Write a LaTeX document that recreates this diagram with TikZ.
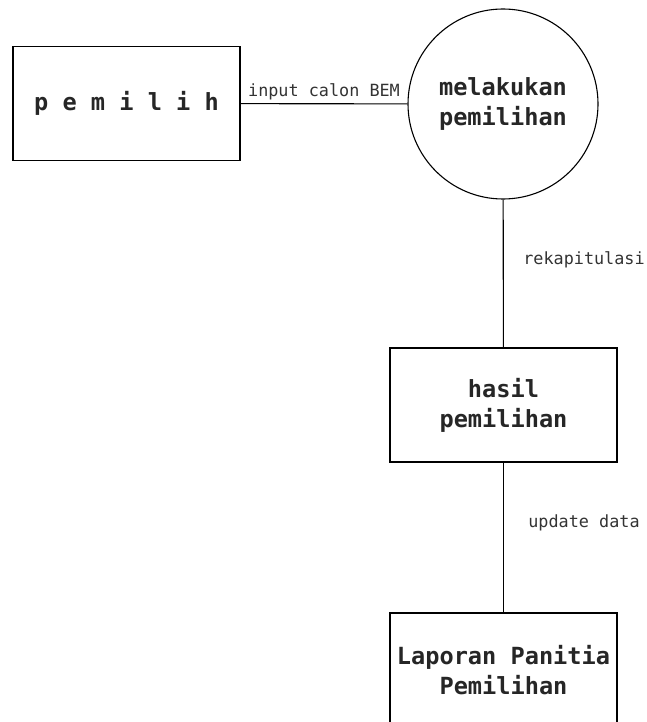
\documentclass[tikz,border=0pt]{standalone}
\usepackage{fontspec}
\newfontfamily\monofont{DejaVu Sans Mono}
\tikzset{
  entity/.style={draw=black, line width=1.1pt, rectangle, minimum width=227pt, minimum height=114pt,
    inner sep=0pt, align=center, font=\monofont\bfseries\fontsize{23.6}{30}\selectfont, text=black!85},
  process/.style={draw=black, line width=1.1pt, circle, minimum size=190pt,
    inner sep=0pt, align=center, font=\monofont\bfseries\fontsize{23.6}{30}\selectfont, text=black!85},
  flowlabel/.style={inner sep=0pt, font=\monofont\fontsize{16.8}{19}\selectfont, text=black!80},
  link/.style={draw=black, line width=1.1pt}
}
\begin{document}
\begin{tikzpicture}[x=1pt,y=-1pt]
\useasboundingbox (0,0) rectangle (647,722);
\clip (0,0) rectangle (647,722);
\fill[white] (0,0) rectangle (647,722);
\node[entity] (pemilih) at (126.5,103.5) {p e m i l i h};
\node[process] (proses) at (503,104) {melakukan\\pemilihan};
\node[entity] (hasil) at (503.5,405) {hasil\\pemilihan};
\node[entity] (laporan) at (503.5,670) {Laporan Panitia\\Pemilihan};
\draw[link] (pemilih) -- (proses);
\draw[link] (proses) -- (hasil);
\draw[link] (hasil) -- (laporan);
\node[flowlabel] (l1) at (324,92) {input calon BEM};
\node[flowlabel] (l2) at (584,260) {rekapitulasi};
\node[flowlabel] (l3) at (584,523) {update data};
\end{tikzpicture}
\end{document}
